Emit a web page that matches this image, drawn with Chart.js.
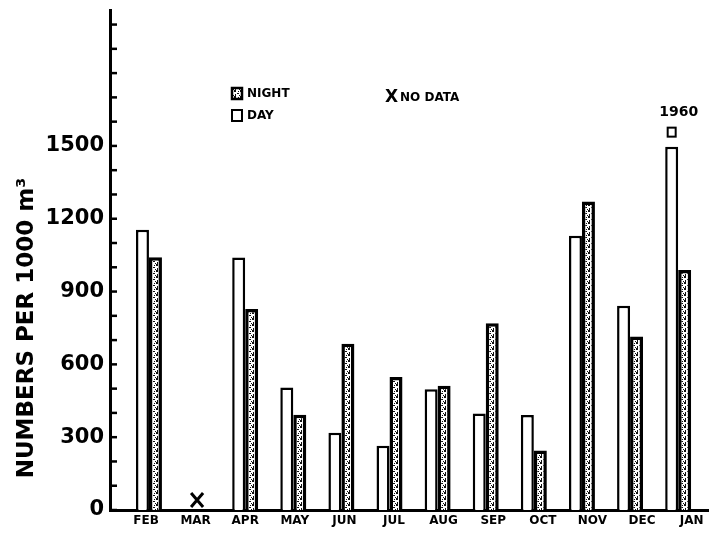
<!DOCTYPE html>
<html>
<head>
<meta charset="utf-8">
<script src="https://cdn.jsdelivr.net/npm/chart.js@4/dist/chart.umd.min.js"></script>
<style>
  body { margin: 0; background: #fff; }
</style>
</head>
<body>
<canvas id="plankton" width="711" height="534"></canvas>
<script>
var months = ['FEB', 'MAR', 'APR', 'MAY', 'JUN', 'JUL', 'AUG', 'SEP', 'OCT', 'NOV', 'DEC', 'JAN'];
var dayValues = [1155, null, 1040, 505, 318, 265, 497, 398, 391, 1130, 841, 1497];
var nightValues = [1041, null, 828, 392, 685, 548, 512, 769, 245, 1271, 715, 989];
var noDataMonths = ['MAR'];
var yTickLabels = [0, 300, 600, 900, 1200, 1500];
var yTitle = 'NUMBERS PER 1000 m³';

// speckled fill for the night bars
function stipple() {
    var c = document.createElement('canvas');
    c.width = 6; c.height = 6;
    var g = c.getContext('2d');
    g.fillStyle = '#fff';
    g.fillRect(0, 0, 6, 6);
    g.fillStyle = '#111';
    g.fillRect(0, 0, 2, 2);
    g.fillRect(3, 3, 2, 1);
    g.fillRect(4, 1, 1, 1);
    g.fillRect(1, 4, 1, 2);
    g.fillRect(5, 5, 1, 1);
    return g.createPattern(c, 'repeat');
}

function points(values) {
    return values.map(function (v, i) { return { x: i, y: v }; });
}

var labelFont = '"DejaVu Sans", sans-serif';

var extras = {
    id: 'extras',
    afterDraw: function (chart) {
        var g = chart.ctx, y = chart.scales.y, x = chart.scales.x, a = chart.chartArea;
        g.save();
        // inward tick marks on the value axis
        g.strokeStyle = '#000';
        g.lineWidth = 2.5;
        y.ticks.forEach(function (t) {
            var py = y.getPixelForValue(t.value);
            g.beginPath();
            g.moveTo(a.left, py);
            g.lineTo(a.left + 7, py);
            g.stroke();
        });
        // axis title, set lower than centre as in the original
        g.save();
        g.translate(27, a.bottom - 182);
        g.rotate(-Math.PI / 2);
        g.fillStyle = '#000';
        g.font = 'bold 23px ' + labelFont;
        g.textAlign = 'center';
        g.textBaseline = 'middle';
        g.fillText(yTitle, 0, 0);
        g.restore();
        // no data crosses
        g.lineWidth = 3;
        noDataMonths.forEach(function (m) {
            var px = x.getPixelForValue(months.indexOf(m)), py = a.bottom - 10;
            g.beginPath();
            g.moveTo(px - 6, py - 7); g.lineTo(px + 6, py + 7);
            g.moveTo(px + 6, py - 7); g.lineTo(px - 6, py + 7);
            g.stroke();
        });
        // 1960 marker above the last day bar
        var bar = chart.getDatasetMeta(0).data[11];
        g.lineWidth = 2;
        g.strokeRect(bar.x - 4, bar.y - 19, 8, 9);
        g.fillStyle = '#000';
        g.font = 'bold 14px ' + labelFont;
        g.textAlign = 'center';
        g.textBaseline = 'alphabetic';
        g.fillText('1960', bar.x + 7, bar.y - 31);
        // legend
        var lx = a.left + 122, ly = 88;
        g.fillStyle = stipple();
        g.fillRect(lx, ly, 10, 11);
        g.lineWidth = 2.5;
        g.strokeRect(lx, ly, 10, 11);
        g.lineWidth = 2;
        g.strokeRect(lx, ly + 22, 10, 11);
        g.fillStyle = '#000';
        g.font = 'bold 12px ' + labelFont;
        g.textAlign = 'left';
        g.textBaseline = 'middle';
        g.fillText('NIGHT', lx + 15, ly + 6);
        g.fillText('DAY', lx + 15, ly + 28);
        g.font = 'bold 17px ' + labelFont;
        g.fillText('X', lx + 153, ly + 10);
        g.font = 'bold 12px ' + labelFont;
        g.fillText('NO DATA', lx + 168, ly + 10);
        g.restore();
    }
};

var night = stipple();
var chart = new Chart(document.getElementById('plankton'), {
    type: 'bar',
    data: {
        datasets: [{
            label: 'DAY',
            data: points(dayValues),
            backgroundColor: '#fff',
            borderColor: '#000',
            borderWidth: 2.5,
            borderSkipped: 'bottom',
            categoryPercentage: 0.54,
            barPercentage: 1
        }, {
            label: 'NIGHT',
            data: points(nightValues),
            backgroundColor: night,
            borderColor: '#000',
            borderWidth: 3.5,
            borderSkipped: 'bottom',
            categoryPercentage: 0.54,
            barPercentage: 1
        }]
    },
    options: {
        responsive: false,
        animation: false,
        layout: { padding: { top: 10, right: 3 } },
        plugins: { legend: { display: false }, tooltip: { enabled: false } },
        scales: {
            x: {
                type: 'linear',
                display: false,
                offset: false,
                min: -0.81,
                max: 11.62
            },
            months: {
                type: 'linear',
                position: 'bottom',
                offset: false,
                min: -0.726,
                max: 11.33,
                afterBuildTicks: function (s) {
                    s.ticks = months.map(function (m, i) { return { value: i }; });
                },
                afterFit: function (s) { s.height = 24; },
                grid: { display: false, drawTicks: false, offset: false },
                border: { color: '#000', width: 3 },
                ticks: {
                    color: '#000',
                    padding: 4,
                    maxRotation: 0,
                    autoSkip: false,
                    font: { family: labelFont, size: 12, weight: 'bold' },
                    callback: function (v) { return months[v]; }
                }
            },
            y: {
                min: 0,
                max: 2060,
                afterBuildTicks: function (s) {
                    var t = [];
                    for (var v = 0; v <= 2000; v += 100) t.push({ value: v });
                    s.ticks = t;
                },
                afterFit: function (s) { s.width = 110; s.paddingTop = 0; s.paddingBottom = 0; },
                grid: { display: false, drawTicks: false },
                border: { color: '#000', width: 3 },
                ticks: {
                    color: '#000',
                    padding: 6,
                    autoSkip: false,
                    font: { family: labelFont, size: 21, weight: 'bold' },
                    callback: function (v) { return yTickLabels.indexOf(v) >= 0 ? String(v) : ''; }
                }
            }
        }
    },
    plugins: [extras]
});
</script>
</body>
</html>
